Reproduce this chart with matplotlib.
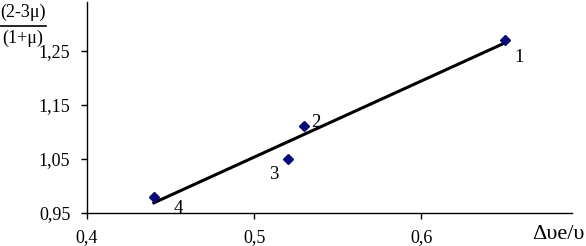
import numpy as np
import matplotlib
matplotlib.use("Agg")
import matplotlib.pyplot as plt
from matplotlib.ticker import FuncFormatter

# data
point_x = [0.65, 0.53, 0.52, 0.44]
point_y = [1.27, 1.11, 1.05, 0.98]
point_labels = ["1", "2", "3", "4"]
label_dx = [0.006, 0.004, -0.011, 0.012]
label_dy = [-0.033, 0.007, -0.028, -0.021]
x_ticks = [0.4, 0.5, 0.6]
y_ticks = [0.95, 1.05, 1.15, 1.25]

plt.rcParams["font.family"] = ["Liberation Serif", "DejaVu Serif"]

fig = plt.figure(figsize=(5.86, 2.46), dpi=100)
ax = fig.add_axes([0.1485, 0.134, 0.827, 0.858])

# linear trend over the points
k, b = np.polyfit(point_x, point_y, 1)
xs = np.array([min(point_x), max(point_x)])
ax.plot(xs, k * xs + b, color="black", lw=2.2, zorder=2)

ax.plot(point_x, point_y, "D", color="#0a0a78", markersize=5.5, zorder=3)

for x, y, t, dx, dy in zip(point_x, point_y, point_labels, label_dx, label_dy):
    ax.text(x + dx, y + dy, t, fontsize=13.5, ha="left", va="center")

ax.set_xlim(0.4, 0.69)
ax.set_ylim(0.95, 1.34)
ax.set_xticks(x_ticks)
ax.set_yticks(y_ticks)
comma = FuncFormatter(lambda v, p: f"{v:g}".replace(".", ","))
ax.xaxis.set_major_formatter(comma)
ax.yaxis.set_major_formatter(comma)
ax.tick_params(direction="out", length=4, width=1, labelsize=13, pad=8)
ax.tick_params(axis="x", pad=7.5)

for s in ["top", "right"]:
    ax.spines[s].set_visible(False)
for s in ["left", "bottom"]:
    ax.spines[s].set_linewidth(1)

# y label as a fraction in the top-left corner
fig.text(0.039, 0.948, "(2-3μ)", fontsize=13, ha="center", va="center")
fig.add_artist(plt.Line2D([0.0, 0.079], [0.895, 0.895], color="black", lw=1.2))
fig.text(0.039, 0.845, "(1+μ)", fontsize=13, ha="center", va="center")

# x label at the bottom right
fig.text(0.997, 0.045, "Δυe/υ", fontsize=16, ha="right", va="center")

fig.savefig("out.png", dpi=100)
